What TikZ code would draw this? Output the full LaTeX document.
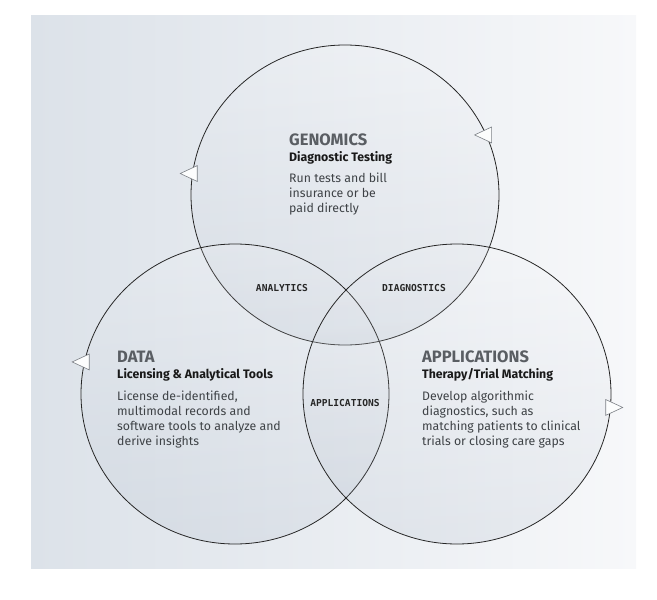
\documentclass[tikz,border=0pt]{standalone}
\usepackage{fontspec}
\setmainfont{Fira Sans}
\newfontfamily\lensfont{DejaVu Sans Mono}
\usepackage{tikz}
\usetikzlibrary{positioning,shapes.geometric}
\definecolor{bgLeft}{HTML}{DCE2E9}
\definecolor{bgRight}{HTML}{F7F8FA}
\definecolor{ringTint}{HTML}{8A9AB0}
\definecolor{headGray}{HTML}{5A5E63}
\definecolor{bodyGray}{HTML}{3E4246}
\definecolor{tipGray}{HTML}{7C8086}

\begin{document}
\begin{tikzpicture}[x=1pt, y=-1pt,
  ring/.style={ellipse, draw=black!85, line width=0.8pt, minimum width=308pt, minimum height=300pt, inner sep=0pt, top color=white, bottom color=ringTint, fill opacity=0.13},
  head/.style={anchor=base west, inner sep=0pt, font=\fontsize{16.5}{18}\selectfont\bfseries, text=headGray},
  sub/.style={anchor=base west, inner sep=0pt, font=\fontsize{12.3}{14}\selectfont\bfseries, text=black!90},
  body/.style={anchor=base west, inner sep=0pt, font=\fontsize{12.3}{15}\selectfont, text=bodyGray, align=left},
  lens/.style={inner sep=0pt, font=\fontsize{9.6}{11}\selectfont\lensfont\bfseries, text=black!85},
  tip/.style={isosceles triangle, isosceles triangle apex angle=50, minimum height=17pt, inner sep=0pt, draw=tipGray, fill=white!92!bgLeft, line width=0.6pt}
]
\useasboundingbox (0,0) rectangle (657,600);
\fill[left color=bgLeft, right color=bgRight] (31,15) rectangle (636,568);

% Rings
\node[ring] (gen) at (345,195) {};
\node[ring] (dat) at (235,394) {};
\node[ring] (app) at (457,394) {};

% Direction tips on the rings
\node[tip, shape border rotate=172] (genTipL) at (gen.172) {};
\node[tip, shape border rotate=188] (genTipR) at (gen.23) {};
\node[tip, shape border rotate=180] (datTip) at (dat.168) {};
\node[tip, shape border rotate=3] (appTip) at (app.-5) {};

% Genomics (body node base = its last line)
\node[head] (genHead) at (289,145) {GENOMICS};
\node[sub] (genSub) at ([yshift=-16.5pt]genHead.base west) {Diagnostic Testing};
\node[body] (genBody) at ([yshift=-50.5pt]genSub.base west) {Run tests and bill\\insurance or be\\paid directly};

% Data
\node[head] (datHead) at (117,362.5) {DATA};
\node[sub] (datSub) at ([yshift=-16pt]datHead.base west) {Licensing \& Analytical Tools};
\node[body] (datBody) at ([yshift=-67pt]datSub.base west) {License de-identified,\\multimodal records and\\software tools to analyze and\\derive insights};

% Applications
\node[head] (appHead) at (422,362) {APPLICATIONS};
\node[sub] (appSub) at ([yshift=-16.5pt]appHead.base west) {Therapy/Trial Matching};
\node[body] (appBody) at ([yshift=-67pt]appSub.base west) {Develop algorithmic\\diagnostics, such as\\matching patients to clinical\\trials or closing care gaps};

% Overlaps
\node[lens] (lensAna) at (282,288) {ANALYTICS};
\node[lens] (lensDia) at (414,288) {DIAGNOSTICS};
\node[lens] (lensApp) at (345,403) {APPLICATIONS};
\end{tikzpicture}
\end{document}
